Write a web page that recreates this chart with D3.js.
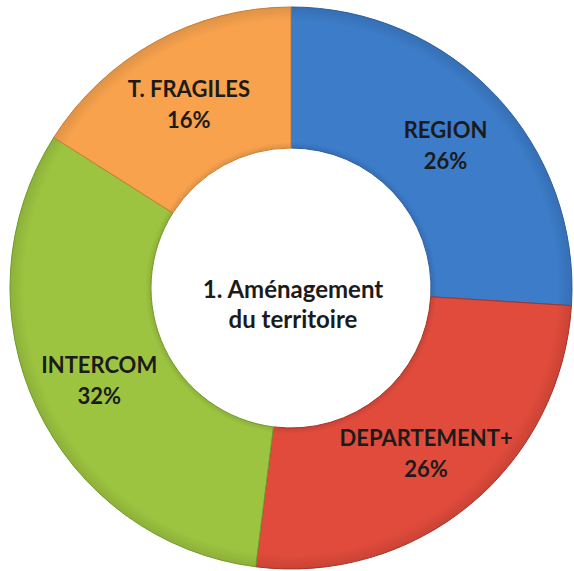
<!DOCTYPE html>
<html>
<head>
<meta charset="utf-8">
<script src="https://cdn.jsdelivr.net/npm/d3@7"></script>
<style>
  html, body { margin: 0; padding: 0; background: #fff; }
  svg text { font-family: Lato, "Open Sans", sans-serif; font-weight: bold; fill: #1b1b1b; }
</style>
</head>
<body>
<script>
var categories = ["REGION", "DEPARTEMENT+", "INTERCOM", "T. FRAGILES"];
var values = [26, 26, 32, 16];
var colors = ["#3c7cc8", "#e04b3b", "#9dc440", "#f8a24e"];
var edges = ["#2c5f9e", "#a8322a", "#6f9a2a", "#c77d36"];
var title = ["1. Aménagement", "du territoire"];

var width = 574,
    height = 571;
var cx = 291, cy = 288;
var outerR = 281, innerR = 140;

var data = categories.map(function(c, i) {
    return {name: c, value: values[i], color: colors[i], edge: edges[i]};
});

var svg = d3.select("body")
    .append("svg")
    .attr("width", width)
    .attr("height", height);

// soft bevel: slightly darker at the inner and outer rims
var defs = svg.append("defs");
data.forEach(function(d, i) {
    var g = defs.append("radialGradient")
        .attr("id", "grad" + i)
        .attr("gradientUnits", "userSpaceOnUse")
        .attr("cx", 0).attr("cy", 0).attr("r", outerR);
    g.append("stop").attr("offset", innerR / outerR).attr("stop-color", d3.color(d.color).darker(0.3));
    g.append("stop").attr("offset", (innerR + 6) / outerR).attr("stop-color", d.color);
    g.append("stop").attr("offset", 0.95).attr("stop-color", d.color);
    g.append("stop").attr("offset", 1).attr("stop-color", d3.color(d.color).darker(0.3));
});

var pie = d3.pie()
    .value(function(d) { return d.value; })
    .sort(null);

var arc = d3.arc()
    .innerRadius(innerR)
    .outerRadius(outerR);

var labelArc = d3.arc()
    .innerRadius(212)
    .outerRadius(212);

var chart = svg.append("g")
    .attr("transform", "translate(" + cx + "," + cy + ")");

var slices = chart.selectAll("g.slice")
    .data(pie(data))
    .enter()
    .append("g")
    .attr("class", "slice");

slices.append("path")
    .attr("d", arc)
    .attr("fill", function(d, i) { return "url(#grad" + i + ")"; })
    .attr("stroke", function(d) { return d.data.edge; })
    .attr("stroke-width", 1);

var labels = slices.append("text")
    .attr("transform", function(d) { return "translate(" + labelArc.centroid(d) + ")"; })
    .attr("text-anchor", "middle")
    .style("font-size", "22px");

labels.append("tspan")
    .attr("x", 0)
    .attr("y", -5)
    .text(function(d) { return d.data.name; });

labels.append("tspan")
    .attr("x", 0)
    .attr("y", 26)
    .text(function(d) { return d.data.value + "%"; });

var center = chart.append("text")
    .attr("text-anchor", "middle")
    .style("font-size", "24px");

center.selectAll("tspan")
    .data(title)
    .enter()
    .append("tspan")
    .attr("x", 2)
    .attr("y", function(d, i) { return 10 + i * 30; })
    .text(function(d) { return d; });
</script>
</body>
</html>
